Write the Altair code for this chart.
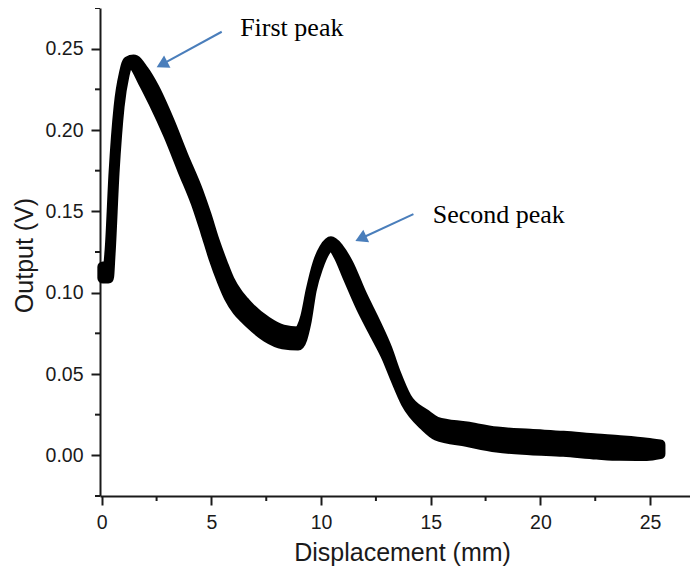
import altair as alt
import pandas as pd

# ---- data ----
x_mm = [0.05, 0.30, 0.38, 0.56, 0.79, 1.02, 1.20, 1.45, 1.90, 2.37, 3.05, 3.69,
        4.39, 4.75, 5.12, 5.50, 5.81, 6.20, 6.51, 6.76, 7.52, 8.26, 8.95, 9.30,
        9.55, 9.86, 10.15, 10.45, 10.80, 11.22, 11.82, 12.50, 13.00, 13.40,
        13.88, 14.74, 15.27, 16.64, 18.01, 19.53, 21.05, 22.57, 23.63, 24.85,
        25.45]
output_v = [0.1124, 0.1124, 0.125, 0.1736, 0.2143, 0.234, 0.2415, 0.2415, 0.233,
            0.2215, 0.2015, 0.1800, 0.157, 0.1425, 0.1265, 0.1125, 0.1025, 0.0940,
            0.0893, 0.0858, 0.0775, 0.0728, 0.0718, 0.0831, 0.1016, 0.117, 0.126,
            0.1303, 0.125, 0.1139, 0.0954, 0.0770, 0.0628, 0.0486, 0.0339, 0.0216,
            0.0164, 0.0130, 0.0097, 0.0082, 0.0071, 0.0054, 0.0045, 0.0037, 0.0037]
# half range of the noisy signal around the centre value
noise_v = [0.0034, 0.0034, 0.001, 0.0, 0.0, 0.0, 0.0005, 0.0015, 0.0035, 0.0045,
           0.0045, 0.0045, 0.005, 0.0055, 0.0055, 0.0055, 0.0052, 0.005, 0.0048,
           0.0046, 0.0046, 0.0042, 0.004, 0.002, 0.0, 0.001, 0.001, 0.001, 0.002,
           0.004, 0.004, 0.0035, 0.0025, 0.0015, 0.0015, 0.0035, 0.004, 0.0044,
           0.0046, 0.0047, 0.0046, 0.0046, 0.0045, 0.0038, 0.0027]

x_ticks = [0, 5, 10, 15, 20, 25]
y_ticks = [0.00, 0.05, 0.10, 0.15, 0.20, 0.25]
x_minor = [2.5, 7.5, 12.5, 17.5, 22.5]
y_minor = [-0.025, 0.025, 0.075, 0.125, 0.175, 0.225, 0.275]

ann_text = ["First peak", "Second peak"]
ann_text_x = [6.31, 15.09]
ann_text_y = [0.2580, 0.1426]
arrow_x0 = [5.47, 14.21]
arrow_y0 = [0.2604, 0.1483]
arrow_x1 = [2.745, 11.81]
arrow_y1 = [0.2403, 0.1333]
arrow_angle = [242.6, 245.1]

# ---- tables ----
df = pd.DataFrame({"x": x_mm, "y": output_v, "n": noise_v})
df["hi"] = df["y"] + df["n"]
df["lo"] = df["y"] - df["n"]

ann = pd.DataFrame({"label": ann_text, "x": ann_text_x, "y": ann_text_y})
arr = pd.DataFrame({"x0": arrow_x0, "y0": arrow_y0, "x1": arrow_x1,
                    "y1": arrow_y1, "ang": arrow_angle})
xm = pd.DataFrame({"v": x_minor})
ym = pd.DataFrame({"v": y_minor})

W, H = 590, 488
INK = "#1a1a1a"
BLUE = "#4a7ebb"
SANS = "Liberation Sans, Arial, sans-serif"

xs = alt.Scale(domain=[-0.08, 26.82], nice=False, zero=False)
ys = alt.Scale(domain=[-0.025, 0.275], nice=False, zero=False)

x_axis = alt.Axis(values=x_ticks, title="Displacement (mm)", grid=False,
                  domainColor=INK, domainWidth=2, tickColor=INK, tickWidth=2,
                  tickSize=9, labelFont=SANS, labelFontSize=19.5, labelColor=INK,
                  labelPadding=8, titleFont=SANS, titleFontSize=25,
                  titleFontWeight="normal", titleColor=INK,
                  titleBaseline="alphabetic", titleY=64, titleX=302)
y_axis = alt.Axis(values=y_ticks, format=".2f", title="Output (V)", grid=False,
                  domainColor=INK, domainWidth=2, tickColor=INK, tickWidth=2,
                  tickSize=9, labelFont=SANS, labelFontSize=19.5, labelColor=INK,
                  labelPadding=8, titleFont=SANS, titleFontSize=25,
                  titleFontWeight="normal", titleColor=INK,
                  titleBaseline="alphabetic", titleAngle=270, titleX=-68,
                  titleY=247)

band = alt.Chart(df).mark_area(
    color="black", fill="black", stroke="black", strokeWidth=11,
    strokeJoin="round", interpolate="monotone", opacity=1
).encode(
    x=alt.X("x:Q", scale=xs, axis=x_axis),
    y=alt.Y("hi:Q", scale=ys, axis=y_axis),
    y2="lo:Q",
)

xminor = alt.Chart(xm).mark_rule(color=INK, strokeWidth=2).encode(
    x=alt.X("v:Q", scale=xs, axis=x_axis),
    y=alt.value(H), y2=alt.value(H + 5),
)
yminor = alt.Chart(ym).mark_rule(color=INK, strokeWidth=2).encode(
    y=alt.Y("v:Q", scale=ys, axis=y_axis),
    x=alt.value(0), x2=alt.value(-5),
)

arrows = alt.Chart(arr).mark_rule(color=BLUE, strokeWidth=2).encode(
    x=alt.X("x0:Q", scale=xs, axis=x_axis), y=alt.Y("y0:Q", scale=ys, axis=y_axis),
    x2="x1:Q", y2="y1:Q",
)
heads = alt.Chart(arr).mark_point(
    shape="triangle-up", filled=True, size=190, color=BLUE, opacity=1
).encode(
    x=alt.X("x1:Q", scale=xs, axis=x_axis), y=alt.Y("y1:Q", scale=ys, axis=y_axis),
    angle=alt.Angle("ang:Q", scale=None),
)
labels = alt.Chart(ann).mark_text(
    font="Liberation Serif, Times New Roman, serif", fontSize=26,
    align="left", baseline="alphabetic", color="black"
).encode(
    x=alt.X("x:Q", scale=xs, axis=x_axis), y=alt.Y("y:Q", scale=ys, axis=y_axis),
    text="label:N",
)

chart = alt.layer(band, xminor, yminor, arrows, heads, labels).properties(
    width=W, height=H,
    autosize=alt.AutoSizeParams(type="none"),
    padding={"left": 92, "top": 0, "right": 0, "bottom": 70},
).configure_view(stroke=None)

chart.save("out.html", embed_options={"renderer": "svg", "actions": False})
